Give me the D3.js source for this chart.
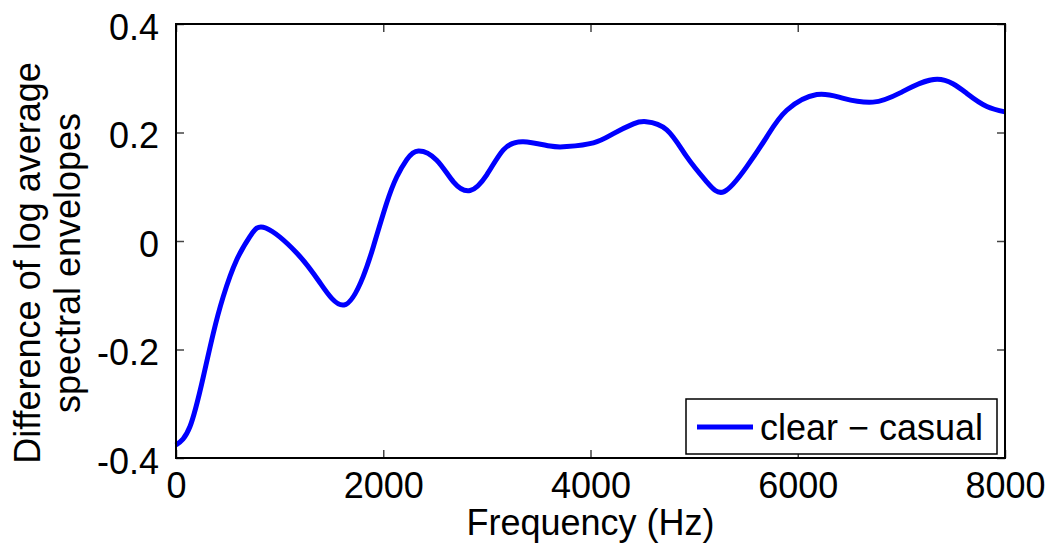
<!DOCTYPE html>
<html>
<head>
<meta charset="utf-8">
<script src="https://cdn.jsdelivr.net/npm/d3@7"></script>
<style>
  body { margin: 0; background: #fff; }
  text { font-family: "Liberation Sans", Arial, sans-serif; fill: #000; }
</style>
</head>
<body>
<div id="vis"></div>
<script>
// Data
const FREQ = [0, 135, 264, 360, 455, 585, 720, 866, 1165, 1390, 1621, 1805, 1905, 2033, 2130, 2227,
              2339, 2516, 2677, 2838, 2999, 3159, 3352, 3610, 3771, 4028, 4221, 4414, 4537, 4736,
              4930, 5122, 5290, 5508, 5701, 5894, 6184, 6441, 6725, 6988, 7346, 7632, 7825, 8000];
const DIFF = [-0.376, -0.342, -0.25, -0.17, -0.103, -0.035, 0.010, 0.024, -0.022, -0.077, -0.118, -0.066,
              -0.010, 0.070, 0.118, 0.150, 0.166, 0.149, 0.109, 0.093, 0.122, 0.168, 0.183, 0.175,
              0.174, 0.181, 0.198, 0.216, 0.220, 0.205, 0.155, 0.109, 0.091, 0.137, 0.192, 0.241,
              0.270, 0.263, 0.256, 0.273, 0.298, 0.272, 0.248, 0.238];
const X_TICKS = [0, 2000, 4000, 6000, 8000];
const Y_TICKS = [-0.4, -0.2, 0, 0.2, 0.4];
const Y_TICK_LABELS = ["-0.4", "-0.2", "0", "0.2", "0.4"];
const LEGEND_LABEL = "clear \u2212 casual";

// Frame
const FRAME_WIDTH = 1054;
const FRAME_HEIGHT = 547;
const MARGINS = {left: 176, right: 49, top: 24, bottom: 89};
const VIS_WIDTH = FRAME_WIDTH - MARGINS.left - MARGINS.right;
const VIS_HEIGHT = FRAME_HEIGHT - MARGINS.top - MARGINS.bottom;

const FRAME = d3.select("#vis")
                .append("svg")
                .attr("width", FRAME_WIDTH)
                .attr("height", FRAME_HEIGHT);

const PLOT = FRAME.append("g")
                  .attr("transform", "translate(" + MARGINS.left + "," + MARGINS.top + ")");

// Scales
const X_SCALE = d3.scaleLinear().domain([0, 8000]).range([0, VIS_WIDTH]);
const Y_SCALE = d3.scaleLinear().domain([-0.4, 0.4]).range([VIS_HEIGHT, 0]);

const FONT_SIZE = 36;
const TICK_LEN = 8;

// Axes with inward ticks on all sides
const xBottom = PLOT.append("g")
      .attr("transform", "translate(0," + VIS_HEIGHT + ")")
      .call(d3.axisBottom(X_SCALE).tickValues(X_TICKS).tickSizeInner(-TICK_LEN).tickSizeOuter(0)
              .tickFormat(d3.format("d")));
const xTop = PLOT.append("g")
      .call(d3.axisTop(X_SCALE).tickValues(X_TICKS).tickSizeInner(-TICK_LEN).tickSizeOuter(0).tickFormat(""));
const yLeft = PLOT.append("g")
      .call(d3.axisLeft(Y_SCALE).tickValues(Y_TICKS).tickSizeInner(-TICK_LEN).tickSizeOuter(0)
              .tickFormat((d, i) => Y_TICK_LABELS[i]));
const yRight = PLOT.append("g")
      .attr("transform", "translate(" + VIS_WIDTH + ",0)")
      .call(d3.axisRight(Y_SCALE).tickValues(Y_TICKS).tickSizeInner(-TICK_LEN).tickSizeOuter(0).tickFormat(""));

[xBottom, xTop, yLeft, yRight].forEach((ax) => {
  ax.select(".domain").remove();
  ax.selectAll(".tick line").attr("stroke", "#444").attr("stroke-width", 1.5);
  ax.selectAll("text")
    .attr("font-size", FONT_SIZE + "px")
    .attr("font-family", "'Liberation Sans', Arial, sans-serif")
    .attr("fill", "#000");
});
// MATLAB-like label placement
xBottom.selectAll("text").attr("y", 40).attr("dy", null);
yLeft.selectAll("text").attr("x", -17).attr("dy", "0.42em");

// Curve
const line = d3.line()
               .x((d, i) => X_SCALE(FREQ[i]))
               .y((d) => Y_SCALE(d))
               .curve(d3.curveNatural);

PLOT.append("path")
    .datum(DIFF)
    .attr("d", line)
    .attr("fill", "none")
    .attr("stroke", "#0000ff")
    .attr("stroke-width", 5)
    .attr("stroke-linejoin", "round");

// Plot box
PLOT.append("rect")
    .attr("width", VIS_WIDTH)
    .attr("height", VIS_HEIGHT)
    .attr("fill", "none")
    .attr("stroke", "#000")
    .attr("stroke-width", 2);

// Axis labels
FRAME.append("text")
     .attr("x", MARGINS.left + VIS_WIDTH / 2)
     .attr("y", 535)
     .attr("text-anchor", "middle")
     .attr("font-size", FONT_SIZE + "px")
     .text("Frequency (Hz)");

const yLabel = FRAME.append("text")
     .attr("transform", "translate(0,263) rotate(-90)")
     .attr("text-anchor", "middle")
     .attr("font-size", FONT_SIZE + "px");
yLabel.append("tspan").attr("x", 0).attr("y", 40).text("Difference of log average");
yLabel.append("tspan").attr("x", 0).attr("y", 80).text("spectral envelopes");

// Legend
const LEG = {x: 686, y: 399, w: 311, h: 55};
FRAME.append("rect")
     .attr("x", LEG.x).attr("y", LEG.y)
     .attr("width", LEG.w).attr("height", LEG.h)
     .attr("fill", "#fff")
     .attr("stroke", "#000")
     .attr("stroke-width", 1.5);
FRAME.append("line")
     .attr("x1", LEG.x + 11).attr("x2", LEG.x + 67)
     .attr("y1", LEG.y + 28).attr("y2", LEG.y + 28)
     .attr("stroke", "#0000ff")
     .attr("stroke-width", 5);
FRAME.append("text")
     .attr("x", LEG.x + 74)
     .attr("y", LEG.y + 41)
     .attr("font-size", FONT_SIZE + "px")
     .text(LEGEND_LABEL);
</script>
</body>
</html>
